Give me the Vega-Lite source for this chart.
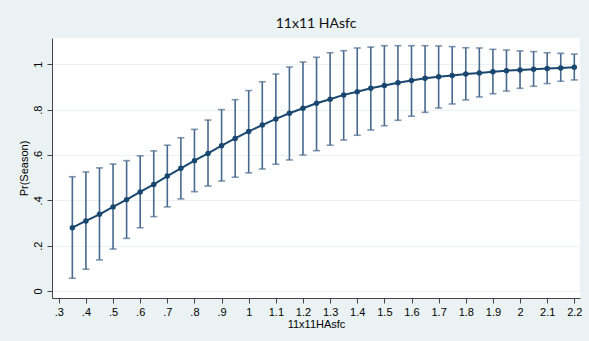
{
  "$schema": "https://vega.github.io/schema/vega-lite/v6.json",
  "autosize": {"type": "none"},
  "width": 528,
  "height": 260,
  "padding": {"left": 52, "top": 38, "right": 9, "bottom": 43},
  "background": "#EAF2F3",
  "view": {"fill": "white", "stroke": null},
  "title": {"text": "11x11 HAsfc", "font": "Lato", "fontSize": 14, "fontWeight": "normal", "color": "#111", "anchor": "middle", "offset": 7},
  "data": {"values": [
    {"x": 0.35, "m": 0.279, "lo": 0.056, "hi": 0.504},
    {"x": 0.40, "m": 0.309, "lo": 0.096, "hi": 0.525},
    {"x": 0.45, "m": 0.338, "lo": 0.137, "hi": 0.543},
    {"x": 0.50, "m": 0.371, "lo": 0.185, "hi": 0.560},
    {"x": 0.55, "m": 0.403, "lo": 0.232, "hi": 0.575},
    {"x": 0.60, "m": 0.437, "lo": 0.279, "hi": 0.596},
    {"x": 0.65, "m": 0.470, "lo": 0.328, "hi": 0.618},
    {"x": 0.70, "m": 0.507, "lo": 0.371, "hi": 0.643},
    {"x": 0.75, "m": 0.541, "lo": 0.406, "hi": 0.676},
    {"x": 0.80, "m": 0.575, "lo": 0.438, "hi": 0.713},
    {"x": 0.85, "m": 0.607, "lo": 0.463, "hi": 0.754},
    {"x": 0.90, "m": 0.641, "lo": 0.485, "hi": 0.800},
    {"x": 0.95, "m": 0.673, "lo": 0.502, "hi": 0.844},
    {"x": 1.00, "m": 0.704, "lo": 0.521, "hi": 0.884},
    {"x": 1.05, "m": 0.732, "lo": 0.538, "hi": 0.923},
    {"x": 1.10, "m": 0.759, "lo": 0.559, "hi": 0.957},
    {"x": 1.15, "m": 0.784, "lo": 0.578, "hi": 0.988},
    {"x": 1.20, "m": 0.806, "lo": 0.600, "hi": 1.010},
    {"x": 1.25, "m": 0.828, "lo": 0.619, "hi": 1.031},
    {"x": 1.30, "m": 0.846, "lo": 0.643, "hi": 1.051},
    {"x": 1.35, "m": 0.865, "lo": 0.666, "hi": 1.060},
    {"x": 1.40, "m": 0.879, "lo": 0.687, "hi": 1.072},
    {"x": 1.45, "m": 0.894, "lo": 0.710, "hi": 1.076},
    {"x": 1.50, "m": 0.906, "lo": 0.729, "hi": 1.082},
    {"x": 1.55, "m": 0.919, "lo": 0.753, "hi": 1.082},
    {"x": 1.60, "m": 0.929, "lo": 0.771, "hi": 1.082},
    {"x": 1.65, "m": 0.938, "lo": 0.788, "hi": 1.082},
    {"x": 1.70, "m": 0.945, "lo": 0.807, "hi": 1.081},
    {"x": 1.75, "m": 0.951, "lo": 0.825, "hi": 1.078},
    {"x": 1.80, "m": 0.957, "lo": 0.843, "hi": 1.073},
    {"x": 1.85, "m": 0.962, "lo": 0.856, "hi": 1.072},
    {"x": 1.90, "m": 0.967, "lo": 0.870, "hi": 1.066},
    {"x": 1.95, "m": 0.972, "lo": 0.882, "hi": 1.063},
    {"x": 2.00, "m": 0.975, "lo": 0.894, "hi": 1.059},
    {"x": 2.05, "m": 0.978, "lo": 0.903, "hi": 1.056},
    {"x": 2.10, "m": 0.981, "lo": 0.915, "hi": 1.051},
    {"x": 2.15, "m": 0.984, "lo": 0.925, "hi": 1.048},
    {"x": 2.20, "m": 0.987, "lo": 0.931, "hi": 1.045}
  ]},
  "encoding": {
    "x": {
      "field": "x", "type": "quantitative",
      "scale": {"domain": [0.275, 2.221], "nice": false, "zero": false},
      "axis": {
        "title": "11x11HAsfc",
        "values": [0.3,0.4,0.5,0.6,0.7,0.8,0.9,1,1.1,1.2,1.3,1.4,1.5,1.6,1.7,1.8,1.9,2,2.1,2.2],
        "labelExpr": "replace(format(datum.value, '.1~f'), '0.', '.')",
        "grid": false,
        "domainColor": "#444", "tickColor": "#444", "tickSize": 5,
        "labelFont": "Liberation Sans", "labelFontSize": 11, "labelColor": "#000", "labelPadding": 3,
        "titleFont": "Liberation Sans", "titleFontSize": 11, "titleFontWeight": "normal", "titleColor": "#000", "titlePadding": 1
      }
    }
  },
  "layer": [
    {
      "mark": {"type": "errorbar", "ticks": {"size": 7}, "thickness": 1.6, "color": "#47698e"},
      "encoding": {
        "y": {
          "field": "lo", "type": "quantitative",
          "scale": {"domain": [-0.031, 1.116], "nice": false, "zero": false},
          "axis": {
            "title": "Pr(Season)",
            "values": [0, 0.2, 0.4, 0.6, 0.8, 1],
            "labelExpr": "replace(format(datum.value, '.1~f'), '0.', '.')",
            "labelAngle": -90, "labelAlign": "center", "labelBaseline": "bottom",
            "grid": true, "gridColor": "#EAF2F3", "gridWidth": 1.2,
            "domainColor": "#444", "tickColor": "#444", "tickSize": 5,
            "labelFont": "Liberation Sans", "labelFontSize": 11, "labelColor": "#000", "labelPadding": 4,
            "titleFont": "Liberation Sans", "titleFontSize": 11, "titleFontWeight": "normal", "titleColor": "#000", "titlePadding": 3
          }
        },
        "y2": {"field": "hi"}
      }
    },
    {
      "mark": {"type": "line", "color": "#1a476f", "strokeWidth": 2},
      "encoding": {"y": {"field": "m", "type": "quantitative"}}
    },
    {
      "mark": {"type": "point", "filled": true, "opacity": 1, "color": "#1a476f", "size": 30},
      "encoding": {"y": {"field": "m", "type": "quantitative"}}
    }
  ]
}
